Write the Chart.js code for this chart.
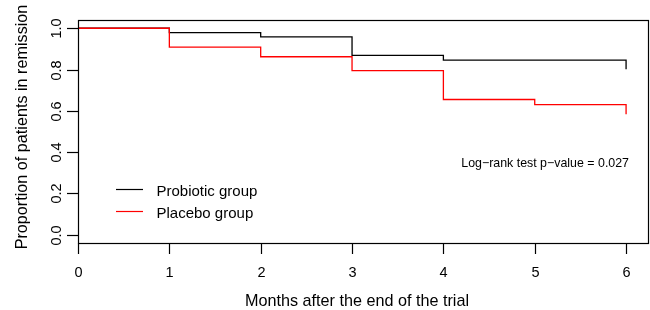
<!DOCTYPE html>
<html>
<head>
<meta charset="utf-8">
<script src="https://cdn.jsdelivr.net/npm/chart.js@4.4.1/dist/chart.umd.min.js"></script>
<style>
    body { margin: 0; background: #fff; }
    canvas { display: block; }
</style>
</head>
<body>
<canvas id="kmChart" width="650" height="310"></canvas>
<script>
document.addEventListener('DOMContentLoaded', function () {
    // data
    const months = [0, 1, 2, 3, 4, 5, 6];
    const probioticGroup = [1.0, 0.979, 0.958, 0.869, 0.846, 0.846, 0.801];
    const placeboGroup = [1.0, 0.909, 0.862, 0.795, 0.655, 0.630, 0.583];
    const seriesNames = ['Probiotic group', 'Placebo group'];
    const seriesColors = ['#000000', '#ff0000'];
    const xTicks = [0, 1, 2, 3, 4, 5, 6];
    const yTicks = [0, 0.2, 0.4, 0.6, 0.8, 1.0];
    const xTitle = 'Months after the end of the trial';
    const yTitle = 'Proportion of patients in remission';
    const pValueNote = 'Log\u2212rank test p\u2212value = 0.027';

    const fontFamily = '"Liberation Sans", Arial, sans-serif';

    const toPoints = (values) => months.map((m, i) => ({ x: m, y: values[i] }));

    const rStyleAxes = {
        id: 'rStyleAxes',
        afterDraw(chart) {
            const ctx = chart.ctx;
            const area = chart.chartArea;
            const xScale = chart.scales.x;
            const yScale = chart.scales.y;

            ctx.save();
            ctx.strokeStyle = '#000';
            ctx.fillStyle = '#000';
            ctx.lineWidth = 1.2;

            // box around the plot region
            ctx.strokeRect(area.left + 0.5, area.top + 0.5, area.right - area.left, area.bottom - area.top);

            // x axis ticks and labels
            ctx.font = '14.5px ' + fontFamily;
            ctx.textAlign = 'center';
            ctx.textBaseline = 'alphabetic';
            xTicks.forEach((v) => {
                const px = Math.round(xScale.getPixelForValue(v)) + 0.5;
                ctx.beginPath();
                ctx.moveTo(px, area.bottom + 0.5);
                ctx.lineTo(px, area.bottom + 11);
                ctx.stroke();
                ctx.fillText(String(v), px, 277);
            });

            // y axis ticks and rotated labels
            yTicks.forEach((v) => {
                const py = Math.round(yScale.getPixelForValue(v)) + 0.5;
                ctx.beginPath();
                ctx.moveTo(area.left + 0.5, py);
                ctx.lineTo(area.left - 11, py);
                ctx.stroke();
                ctx.save();
                ctx.translate(60.5, py);
                ctx.rotate(-Math.PI / 2);
                ctx.fillText(v.toFixed(1), 0, 0);
                ctx.restore();
            });

            // axis titles
            ctx.font = '16.2px ' + fontFamily;
            ctx.fillText(xTitle, 357, 306);
            ctx.save();
            ctx.translate(27, 127);
            ctx.rotate(-Math.PI / 2);
            ctx.fillText(yTitle, 0, 0);
            ctx.restore();

            // legend, R style (no frame)
            ctx.font = '15px ' + fontFamily;
            ctx.textAlign = 'left';
            const legendLines = [189.5, 211.5];
            chart.data.datasets.forEach((ds, i) => {
                ctx.strokeStyle = ds.borderColor;
                ctx.beginPath();
                ctx.moveTo(116, legendLines[i]);
                ctx.lineTo(143, legendLines[i]);
                ctx.stroke();
                ctx.fillText(ds.label, 156.5, legendLines[i] + 6);
            });

            // p-value note
            ctx.font = '12.4px ' + fontFamily;
            ctx.textAlign = 'right';
            ctx.fillText(pValueNote, 629, 167.3);
            ctx.restore();
        }
    };

    new Chart(document.getElementById('kmChart').getContext('2d'), {
        type: 'line',
        data: {
            datasets: [
                {
                    label: seriesNames[0],
                    data: toPoints(probioticGroup),
                    borderColor: seriesColors[0],
                    borderWidth: 1.3,
                    stepped: true,
                    pointRadius: 0,
                    fill: false,
                    order: 1
                },
                {
                    label: seriesNames[1],
                    data: toPoints(placeboGroup),
                    borderColor: seriesColors[1],
                    borderWidth: 1.3,
                    stepped: true,
                    pointRadius: 0,
                    fill: false,
                    order: 0 // red drawn over black, as in the original
                }
            ]
        },
        options: {
            responsive: false,
            animation: false,
            layout: {
                padding: { left: 78, top: 20, right: 2, bottom: 67 }
            },
            scales: {
                x: { type: 'linear', min: 0, max: 6.24, display: false },
                y: { type: 'linear', min: -0.04, max: 1.04, display: false }
            },
            plugins: {
                legend: { display: false },
                tooltip: { enabled: false }
            }
        },
        plugins: [rStyleAxes]
    });
});
</script>
</body>
</html>
